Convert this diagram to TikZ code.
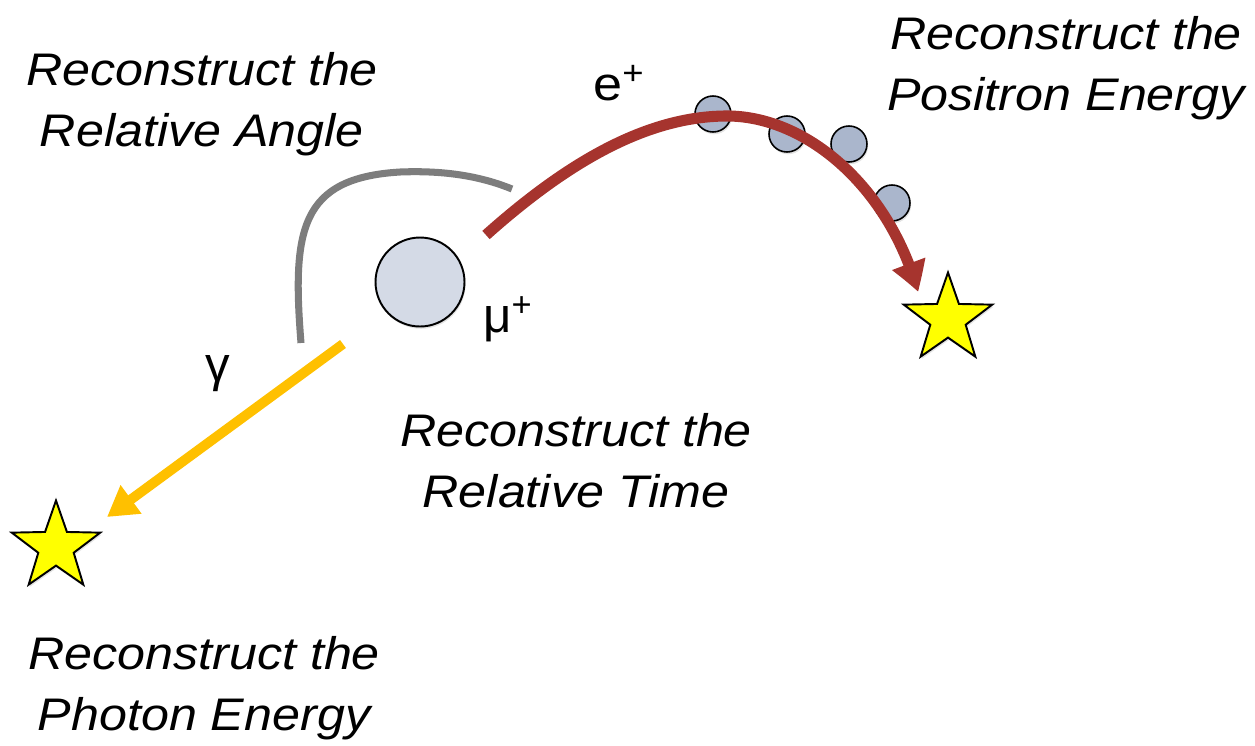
\documentclass[tikz,border=0pt]{standalone}
\usepackage{fontspec}
\setmainfont{Liberation Sans}
\newfontfamily\widefont[FakeStretch=1.1]{Liberation Sans}
\usetikzlibrary{shapes.geometric,arrows.meta,shadows,positioning,bending}
\definecolor{muonblue}{RGB}{212,218,230}
\definecolor{hitblue}{RGB}{170,182,204}
\definecolor{trackred}{RGB}{166,52,46}
\definecolor{photonyellow}{RGB}{255,192,0}
\definecolor{anglegray}{RGB}{125,125,125}
\definecolor{staryellow}{RGB}{255,255,0}

\begin{document}
\begin{tikzpicture}[
    x=0.02cm, y=-0.02cm,
    softshadow/.style={drop shadow={opacity=0.22, shadow xshift=0.6pt, shadow yshift=-1.3pt}},
    note/.style={inner sep=0pt, align=center, anchor=north, font=\widefont\itshape\fontsize{26}{35}\selectfont},
    particle/.style={inner sep=0pt, anchor=base west, font=\fontsize{28}{32}\selectfont},
    muon/.style={circle, draw, line width=1.1pt, fill=muonblue, minimum size=1.78cm, inner sep=0pt, softshadow},
    hit/.style={circle, draw, line width=0.9pt, fill=hitblue, minimum size=0.72cm, inner sep=0pt, softshadow},
    endstar/.style={star, star points=5, star point ratio=2.5, draw, line width=1.1pt, fill=staryellow, minimum size=1.86cm, inner sep=0pt, softshadow},
    track/.style={line width=6.3pt, -{Triangle[length=17pt, width=19pt, bend]}}
]
\useasboundingbox (0,0) rectangle (1255,745);

% texts
\node[note] (angle) at (202,52) {Reconstruct the\\Relative Angle};
\node[note] (time) at (576,413) {Reconstruct the\\Relative Time};
\node[note] (positron) at (1066,16) {Reconstruct the\\Positron Energy};
\node[note] (photon) at (204,636) {Reconstruct the\\Photon Energy};

% muon and its decay products
\node[muon] (muon) at (420,282) {};
\node[particle] (mulabel) at (483,332) {μ\textsuperscript{+}};
\node[particle] (elabel) at (593,100) {\widefont\fontsize{27}{30}\selectfont e\textsuperscript{+}};
\node[particle] (gammalabel) at (205,381) {γ};

\foreach \px/\py [count=\i] in {713/114, 787/134, 849/144, 892/203}
    \node[hit] (hit\i) at (\px,\py) {};

\node[endstar] (posstar) at (948,319) {};
\node[endstar] (phostar) at (56,547) {};

\coordinate (astart) at (301,343);
\coordinate (aend) at (512,189);
\coordinate (estart) at (486,235);
\coordinate (eend) at (918,292);
\coordinate (gstart) at (343,344);
\coordinate (gend) at (107,517);

% tracks
\draw[anglegray, line width=4pt] (astart) .. controls (292,230) and (300,178) .. (400,172) .. controls (450,170) and (485,178) .. (aend);
\draw[track, trackred] (estart) .. controls (570,160) and (650,115) .. (730,116) .. controls (810,118) and (890,190) .. (eend);
\draw[track, photonyellow, line width=5.6pt] (gstart) -- (gend);
\end{tikzpicture}
\end{document}
